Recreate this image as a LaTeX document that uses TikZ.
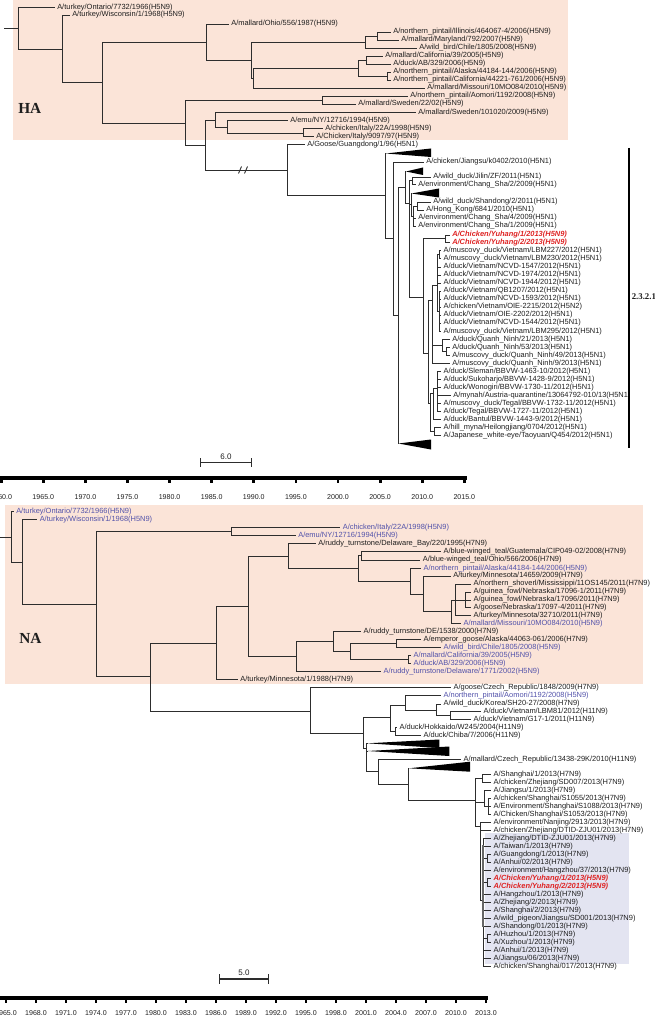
\documentclass[tikz,border=0pt]{standalone}
\usepackage{fontspec}
\setmainfont{Liberation Sans}
\newfontfamily\lab{Liberation Sans}
\newfontfamily\tms{Liberation Serif}
\definecolor{peach}{RGB}{251,228,216}
\definecolor{lav}{RGB}{227,228,241}
\definecolor{linec}{RGB}{45,45,45}
\definecolor{bluec}{RGB}{82,82,170}
\definecolor{redc}{RGB}{222,35,35}
\definecolor{txt}{RGB}{30,30,30}
\tikzset{
  br/.style={draw=linec, line width=0.65pt},
  leaf/.style={anchor=west, inner xsep=1.875pt, inner ysep=0pt, text=txt, font={\lab\fontsize{5.6}{6}\selectfont}},
  blu/.style={text=bluec},
  redl/.style={text=redc, font={\lab\bfseries\itshape\fontsize{5.6}{6}\selectfont}},
  axl/.style={inner sep=0pt, text=txt, font={\lab\fontsize{5.3}{6}\selectfont}},
  big/.style={anchor=west, inner sep=0pt, text=txt, font={\tms\bfseries\fontsize{11.5}{12}\selectfont}},
}
\newcommand{\myleaf}[5][]{\node[leaf,#1] (#2) at ({#3-2.5},#4) {#5};}
\newcommand{\kids}[2]{\foreach \c in {#2} {\draw[br] (#1) |- (\c);}}
\newcommand{\mytri}[6]{\coordinate (#1) at (#2,#3); \fill[black] (#1) -- (#4,#5) -- (#4,#6) -- cycle;}
\begin{document}
\begin{tikzpicture}[x=0.75pt,y=-0.75pt]
\useasboundingbox (0,0) rectangle (655,1019);
% backgrounds
\fill[peach] (13,0) rectangle (568,140);
\fill[peach] (5,505) rectangle (643,684);
\fill[lav] (485,833) rectangle (629,964);
\node[big] (ha) at (18,108) {HA};
\node[big] (na) at (19,638) {NA};

%% ================= TOP TREE (HA) =================
\coordinate (hroot) at (4,28);
\coordinate (h1) at (18,28);
\coordinate (h2) at (62,49);
\coordinate (h3) at (102,82);
\coordinate (h4) at (206,42);
\coordinate (h5) at (251,60);
\coordinate (h6) at (365,42);
\coordinate (h6a) at (377,36);
\coordinate (h7) at (253,78);
\coordinate (h8) at (358,68);
\coordinate (h8a) at (366,60);
\coordinate (h8b) at (387,76);
\coordinate (h9) at (185,123);
\coordinate (h10) at (322,100);
\coordinate (h11) at (205,145);
\coordinate (h12) at (215,120);
\coordinate (h12a) at (227,127);
\coordinate (h12b) at (303,133);
\coordinate (h13) at (287,170);
\coordinate (h14) at (385,195);
\coordinate (h15) at (393,238);
\coordinate (h16) at (398,315);
\coordinate (h17) at (405,187);
\coordinate (h18) at (409,203);
\coordinate (h19) at (412,180.5);
\coordinate (h20) at (411,204.5);
\coordinate (h22) at (413,216);
\coordinate (h23) at (417,206);
\coordinate (h21) at (423,297);
\coordinate (h24) at (445,238.8);
\coordinate (h25) at (428,353);
\coordinate (h26) at (432,300);
\coordinate (h27) at (437,285);
\coordinate (h27a) at (439,254.7);
\coordinate (h27b) at (439,311);
\coordinate (h28) at (442,345);
\coordinate (h28a) at (446,351.5);
\coordinate (h30) at (430,403);
\coordinate (h31) at (433,393);
\coordinate (h33) at (437,388);
\coordinate (h32) at (434,431.5);

\myleaf{ont}{57}{7.5}{A/turkey/Ontario/7732/1966(H5N9)}
\myleaf{wis}{72}{15}{A/turkey/Wisconsin/1/1968(H5N9)}
\myleaf{ohio}{231}{24}{A/mallard/Ohio/556/1987(H5N9)}
\myleaf{ill}{393}{32}{A/northern\_pintail/Illinois/464067-4/2006(H5N9)}
\myleaf{mary}{401}{40}{A/mallard/Maryland/792/2007(H5N9)}
\myleaf{wbc}{419}{48}{A/wild\_bird/Chile/1805/2008(H5N9)}
\myleaf{mcal}{385}{56}{A/mallard/California/39/2005(H5N9)}
\myleaf{dab}{393}{64}{A/duck/AB/329/2006(H5N9)}
\myleaf{npa}{393}{72}{A/northern\_pintail/Alaska/44184-144/2006(H5N9)}
\myleaf{npc}{393}{80}{A/northern\_pintail/California/44221-761/2006(H5N9)}
\myleaf{mmo}{427}{88}{A/mallard/Missouri/10MO084/2010(H5N9)}
\myleaf{aom}{410}{96}{A/northern\_pintail/Aomori/1192/2008(H5N9)}
\myleaf{sw22}{358}{104}{A/mallard/Sweden/22/02(H5N9)}
\myleaf{sw10}{418}{112.5}{A/mallard/Sweden/101020/2009(H5N9)}
\myleaf{emu}{290}{120.5}{A/emu/NY/12716/1994(H5N9)}
\myleaf{it22}{325}{128.5}{A/chicken/Italy/22A/1998(H5N9)}
\myleaf{it90}{316}{136.5}{A/Chicken/Italy/9097/97(H5N9)}
\myleaf{goose}{307}{144.5}{A/Goose/Guangdong/1/96(H5N1)}
\myleaf{jiang}{426}{162}{A/chicken/Jiangsu/k0402/2010(H5N1)}
\myleaf{jilin}{433}{177}{A/wild\_duck/Jilin/ZF/2011(H5N1)}
\myleaf{env2}{418}{184.5}{A/environment/Chang\_Sha/2/2009(H5N1)}
\myleaf{shd}{433}{202}{A/wild\_duck/Shandong/2/2011(H5N1)}
\myleaf{hk}{426}{210}{A/Hong\_Kong/6841/2010(H5N1)}
\myleaf{env4}{418}{218}{A/environment/Chang\_Sha/4/2009(H5N1)}
\myleaf{env1}{418}{226}{A/environment/Chang\_Sha/1/2009(H5N1)}
\myleaf[redl]{yh1}{452}{235}{A/Chicken/Yuhang/1/2013(H5N9)}
\myleaf[redl]{yh2}{452}{242.7}{A/Chicken/Yuhang/2/2013(H5N9)}
\myleaf{lbm227}{443.3}{250.7}{A/muscovy\_duck/Vietnam/LBM227/2012(H5N1)}
\myleaf{lbm230}{443.3}{258.7}{A/muscovy\_duck/Vietnam/LBM230/2012(H5N1)}
\myleaf{n1547}{443.3}{267}{A/duck/Vietnam/NCVD-1547/2012(H5N1)}
\myleaf{n1974}{443.3}{275}{A/duck/Vietnam/NCVD-1974/2012(H5N1)}
\myleaf{n1944}{443.3}{283}{A/duck/Vietnam/NCVD-1944/2012(H5N1)}
\myleaf{qb}{443.3}{291}{A/duck/Vietnam/QB1207/2012(H5N1)}
\myleaf{n1593}{443.3}{299}{A/duck/Vietnam/NCVD-1593/2012(H5N1)}
\myleaf{oie15}{443.3}{307}{A/chicken/Vietnam/OIE-2215/2012(H5N2)}
\myleaf{oie02}{443.3}{315}{A/duck/Vietnam/OIE-2202/2012(H5N1)}
\myleaf{n1544}{443.3}{323}{A/duck/Vietnam/NCVD-1544/2012(H5N1)}
\myleaf{lbm295}{443.3}{331.5}{A/muscovy\_duck/Vietnam/LBM295/2012(H5N1)}
\myleaf{qn21}{452}{339.5}{A/duck/Quanh\_Ninh/21/2013(H5N1)}
\myleaf{qn53}{452}{347.5}{A/duck/Quanh\_Ninh/53/2013(H5N1)}
\myleaf{qn49}{452}{355.5}{A/muscovy\_duck/Quanh\_Ninh/49/2013(H5N1)}
\myleaf{qn9}{452}{363.5}{A/muscovy\_duck/Quanh\_Ninh/9/2013(H5N1)}
\myleaf{slem}{443.3}{371.5}{A/duck/Sleman/BBVW-1463-10/2012(H5N1)}
\myleaf{suko}{443.3}{379.5}{A/duck/Sukoharjo/BBVW-1428-9/2012(H5N1)}
\myleaf{wono}{443.3}{387.5}{A/duck/Wonogiri/BBVW-1730-11/2012(H5N1)}
\myleaf{mynah}{453}{395.5}{A/mynah/Austria-quarantine/13064792-010/13(H5N1)}
\myleaf{mteg}{443.3}{403.5}{A/muscovy\_duck/Tegal/BBVW-1732-11/2012(H5N1)}
\myleaf{dteg}{443.3}{411.5}{A/duck/Tegal/BBVW-1727-11/2012(H5N1)}
\myleaf{bant}{443.3}{419.5}{A/duck/Bantul/BBVW-1443-9/2012(H5N1)}
\myleaf{hill}{443.3}{427.5}{A/hill\_myna/Heilongjiang/0704/2012(H5N1)}
\myleaf{jwe}{443.3}{435.5}{A/Japanese\_white-eye/Taoyuan/Q454/2012(H5N1)}

\mytri{tri0}{386}{153.5}{431}{148.5}{157}
\mytri{tri1}{406}{171.5}{423}{167.5}{175}
\mytri{tri2}{411.5}{193.5}{439}{188.5}{197.5}
\mytri{tri3}{398.5}{443.5}{431}{439.5}{449.5}

\draw[br] (hroot) -- (h1);
\kids{h1}{ont,h2}
\kids{h2}{wis,h3}
\kids{h3}{h4,h9}
\kids{h4}{ohio,h5}
\kids{h5}{h6,h7}
\kids{h6}{h6a,wbc}
\kids{h6a}{ill,mary}
\kids{h7}{h8,mmo}
\kids{h8}{h8a,h8b}
\kids{h8a}{mcal,dab}
\kids{h8b}{npa,npc}
\kids{h9}{h10,h11}
\kids{h10}{aom,sw22}
\kids{h11}{h12,h13}
\kids{h12}{sw10,h12a}
\kids{h12a}{emu,h12b}
\kids{h12b}{it22,it90}
\kids{h13}{goose,h14}
\kids{h14}{tri0,h15}
\kids{h15}{jiang,h16}
\kids{h16}{h17,tri3}
\kids{h17}{tri1,h18}
\kids{h18}{h19,h20,h21}
\kids{h19}{jilin,env2}
\kids{h20}{tri2,h22}
\kids{h22}{h23,env4,env1}
\kids{h23}{shd,hk}
\kids{h21}{h24,h25}
\kids{h24}{yh1,yh2}
\kids{h25}{h26,h30}
\kids{h26}{h27,h28,qn9}
\kids{h27}{h27a,n1547,n1974,n1944,h27b}
\kids{h27a}{lbm227,lbm230}
\kids{h27b}{qb,n1593,oie15,oie02,n1544,lbm295}
\kids{h28}{qn21,h28a}
\kids{h28a}{qn53,qn49}
\kids{h30}{h31,h32}
\kids{h31}{h33,bant}
\kids{h33}{slem,suko,wono,mynah,mteg,dteg}
\kids{h32}{hill,jwe}
% break marks
\draw[linec, line width=0.65pt] (238.5,173.5) -- (241.5,166.5);
\draw[linec, line width=0.65pt] (244.5,173.5) -- (247.5,166.5);
% clade bar
\coordinate (cb1) at (629,148);
\coordinate (cb2) at (629,448);
\draw[black, line width=1.1pt] (cb1) -- (cb2);
\node[anchor=west, inner sep=0pt, text=txt, font={\tms\bfseries\fontsize{6.6}{7}\selectfont}] (c2321) at (631.5,297) {2.3.2.1};
% scale bar
\coordinate (s1a) at (200,462.5);
\coordinate (s1b) at (252,462.5);
\draw[linec, line width=0.8pt, |-|] (s1a) -- (s1b);
\node[axl, font={\lab\fontsize{6}{7}\selectfont}] (s1l) at (226,457) {6.0};
% axis
\coordinate (ax1a) at (0,478);
\coordinate (ax1b) at (467,478);
\draw[black, line width=2.4pt] (ax1a) -- (ax1b);
\foreach \i in {0,...,11} {
  \pgfmathsetmacro\xx{1.2+42.1*\i}
  \pgfmathtruncatemacro\yr{1960+5*\i}
  \fill[black] (\xx-1.4,478) rectangle (\xx+1.4,483);
  \node[axl] (ta\i) at (\xx,497) {\yr.0};
}

%% ================= BOTTOM TREE (NA) =================
\coordinate (broot) at (0,537);
\coordinate (r1) at (11,537);
\coordinate (r2) at (22,562);
\coordinate (r3) at (96.7,604);
\coordinate (rI) at (231,531.5);
\coordinate (r4) at (150,676.7);
\coordinate (r5) at (216.7,643);
\coordinate (r6) at (248,606.7);
\coordinate (r7) at (288,556);
\coordinate (r8) at (296,656.7);
\coordinate (b1) at (358.3,568);
\coordinate (bg) at (361.7,555.8);
\coordinate (b2) at (410,581);
\coordinate (b3) at (423.3,594);
\coordinate (b4) at (451.7,611.7);
\coordinate (b5) at (455,600);
\coordinate (b6) at (465,600);
\coordinate (c1) at (333.3,641.7);
\coordinate (c2) at (350,651.7);
\coordinate (c3) at (396.7,643.7);
\coordinate (c4) at (408.3,659.7);
\coordinate (d1) at (310,711);
\coordinate (d2) at (363.3,733);
\coordinate (d3) at (390.7,717);
\coordinate (d4) at (366.7,748.5);
\coordinate (d5) at (405,705);
\coordinate (d6) at (395,731.3);
\coordinate (d7) at (436.7,710);
\coordinate (d8) at (450,715.7);
\coordinate (d9) at (378.3,771.8);
\coordinate (d10) at (408.3,784);
\coordinate (d11) at (475,800);
\coordinate (e1) at (482.7,778.3);
\coordinate (e2) at (484,802.3);
\coordinate (e3) at (488,806.3);
\coordinate (e4) at (480,826);
\coordinate (e5) at (483.5,900);
\coordinate (eg) at (487.5,858.3);
\coordinate (ey) at (487.5,882.3);
\coordinate (ehx) at (487.5,938.3);

\myleaf[blu]{bont}{16}{511.5}{A/turkey/Ontario/7732/1966(H5N9)}
\myleaf[blu]{bwis}{39.5}{519.5}{A/turkey/Wisconsin/1/1968(H5N9)}
\myleaf[blu]{bit}{342.5}{527.5}{A/chicken/Italy/22A/1998(H5N9)}
\myleaf[blu]{bemu}{298}{535.5}{A/emu/NY/12716/1994(H5N9)}
\myleaf{rdb}{318}{543.5}{A/ruddy\_turnstone/Delaware\_Bay/220/1995(H7N9)}
\myleaf{guat}{443.3}{551.7}{A/blue-winged\_teal/Guatemala/CIP049-02/2008(H7N9)}
\myleaf{bwto}{422.7}{560}{A/blue-winged\_teal/Ohio/566/2006(H7N9)}
\myleaf[blu]{bnpa}{423.3}{568.3}{A/northern\_pintail/Alaska/44184-144/2006(H5N9)}
\myleaf{tmin}{453}{576}{A/turkey/Minnesota/14659/2009(H7N9)}
\myleaf{shov}{473.3}{584}{A/northern\_shoverl/Mississippi/11OS145/2011(H7N9)}
\myleaf{gf1}{473.3}{592}{A/guinea\_fowl/Nebraska/17096-1/2011(H7N9)}
\myleaf{gf2}{473.3}{600}{A/guinea\_fowl/Nebraska/17096/2011(H7N9)}
\myleaf{gneb}{473.3}{607.7}{A/goose/Nebraska/17097-4/2011(H7N9)}
\myleaf{tm32}{473.3}{615.7}{A/turkey/Minnesota/32710/2011(H7N9)}
\myleaf[blu]{bmmo}{463.3}{623.5}{A/mallard/Missouri/10MO084/2010(H5N9)}
\myleaf{rde}{363.3}{631.7}{A/ruddy\_turnstone/DE/1538/2000(H7N9)}
\myleaf{emp}{423.3}{639.7}{A/emperor\_goose/Alaska/44063-061/2006(H7N9)}
\myleaf[blu]{bwbc}{443.3}{647.7}{A/wild\_bird/Chile/1805/2008(H5N9)}
\myleaf[blu]{bmcal}{413.3}{655.7}{A/mallard/California/39/2005(H5N9)}
\myleaf[blu]{bdab}{413.3}{663.7}{A/duck/AB/329/2006(H5N9)}
\myleaf[blu]{rdd}{383.3}{671.7}{A/ruddy\_turnstone/Delaware/1771/2002(H5N9)}
\myleaf{tm1}{240}{679.5}{A/turkey/Minnesota/1/1988(H7N9)}
\myleaf{gcz}{453.3}{687.7}{A/goose/Czech\_Republic/1848/2009(H7N9)}
\myleaf[blu]{baom}{443.3}{695.7}{A/northern\_pintail/Aomori/1192/2008(H5N9)}
\myleaf{wdk}{443.3}{704}{A/wild\_duck/Korea/SH20-27/2008(H7N9)}
\myleaf{lbm81}{483.3}{711.7}{A/duck/Vietnam/LBM81/2012(H11N9)}
\myleaf{g17}{473.3}{719.7}{A/duck/Vietnam/G17-1/2011(H11N9)}
\myleaf{hok}{399.3}{727.5}{A/duck/Hokkaido/W245/2004(H11N9)}
\myleaf{chiba}{423.3}{735.3}{A/duck/Chiba/7/2006(H11N9)}
\myleaf{mcz}{463.3}{759.7}{A/mallard/Czech\_Republic/13438-29K/2010(H11N9)}
\myleaf{sh1}{493.3}{774.3}{A/Shanghai/1/2013(H7N9)}
\myleaf{zsd}{493.3}{782.3}{A/chicken/Zhejiang/SD007/2013(H7N9)}
\myleaf{js1}{493.3}{790.3}{A/Jiangsu/1/2013(H7N9)}
\myleaf{s1055}{493.3}{798.3}{A/chicken/Shanghai/S1055/2013(H7N9)}
\myleaf{s1088}{493.3}{806.3}{A/Environment/Shanghai/S1088/2013(H7N9)}
\myleaf{s1053}{493.3}{814.3}{A/Chicken/Shanghai/S1053/2013(H7N9)}
\myleaf{nj}{493.3}{822.3}{A/environment/Nanjing/2913/2013(H7N9)}
\myleaf{czd}{493.3}{830.3}{A/chicken/Zhejiang/DTID-ZJU01/2013(H7N9)}
\myleaf{zd}{493.3}{838.3}{A/Zhejiang/DTID-ZJU01/2013(H7N9)}
\myleaf{tw}{493.3}{846.3}{A/Taiwan/1/2013(H7N9)}
\myleaf{gd}{493.3}{854.3}{A/Guangdong/1/2013(H7N9)}
\myleaf{ah2}{493.3}{862.3}{A/Anhui/02/2013(H7N9)}
\myleaf{hz37}{493.3}{870.3}{A/environment/Hangzhou/37/2013(H7N9)}
\myleaf[redl]{byh1}{493.3}{878.3}{A/Chicken/Yuhang/1/2013(H5N9)}
\myleaf[redl]{byh2}{493.3}{886.3}{A/Chicken/Yuhang/2/2013(H5N9)}
\myleaf{hz1}{493.3}{894.3}{A/Hangzhou/1/2013(H7N9)}
\myleaf{zj2}{493.3}{902.3}{A/Zhejiang/2/2013(H7N9)}
\myleaf{sh2}{493.3}{910.3}{A/Shanghai/2/2013(H7N9)}
\myleaf{wp}{493.3}{918.3}{A/wild\_pigeon/Jiangsu/SD001/2013(H7N9)}
\myleaf{sd}{493.3}{926.3}{A/Shandong/01/2013(H7N9)}
\myleaf{huz}{493.3}{934.3}{A/Huzhou/1/2013(H7N9)}
\myleaf{xuz}{493.3}{942.3}{A/Xuzhou/1/2013(H7N9)}
\myleaf{ah1}{493.3}{950.3}{A/Anhui/1/2013(H7N9)}
\myleaf{js6}{493.3}{958.3}{A/Jiangsu/06/2013(H7N9)}
\myleaf{cs17}{493.3}{966.3}{A/chicken/Shanghai/017/2013(H7N9)}

\mytri{triA}{367.5}{743.3}{439.3}{739.5}{748}
\mytri{triB}{367.5}{751}{449.3}{746.5}{756}
\mytri{triC}{409}{768.3}{470}{761.7}{771.7}

\draw[br] (broot) -- (r1);
\kids{r1}{bont,r2}
\kids{r2}{bwis,r3}
\kids{r3}{rI,r4}
\kids{rI}{bit,bemu}
\kids{r4}{r5,d1}
\kids{r5}{r6,tm1}
\kids{r6}{r7,r8}
\kids{r7}{rdb,b1}
\kids{b1}{bg,b2}
\kids{bg}{guat,bwto}
\kids{b2}{bnpa,b3}
\kids{b3}{tmin,b4}
\kids{b4}{b5,bmmo}
\kids{b5}{shov,b6,tm32}
\kids{b6}{gf1,gf2,gneb}
\kids{r8}{c1,rdd}
\kids{c1}{rde,c2}
\kids{c2}{c3,c4}
\kids{c3}{emp,bwbc}
\kids{c4}{bmcal,bdab}
\kids{d1}{gcz,d2}
\kids{d2}{d3,d4}
\kids{d3}{d5,d6}
\kids{d5}{baom,d7}
\kids{d7}{wdk,d8}
\kids{d8}{lbm81,g17}
\kids{d6}{hok,chiba}
\kids{d4}{triA,triB,d9}
\kids{d9}{mcz,d10}
\kids{d10}{triC,d11}
\kids{d11}{e1,e2,e4}
\kids{e1}{sh1,zsd}
\kids{e2}{js1,e3}
\kids{e3}{s1055,s1088,s1053}
\kids{e4}{nj,czd,e5}
\kids{e5}{zd,tw,eg,hz37,ey,hz1,zj2,sh2,wp,sd,ehx,ah1,js6,cs17}
\kids{eg}{gd,ah2}
\kids{ey}{byh1,byh2}
\kids{ehx}{huz,xuz}
\coordinate (tb1) at (483.3,845);
\coordinate (tb2) at (483.3,927);
\draw[gray!80!black, line width=1.5pt] (tb1) -- (tb2);
% scale bar
\coordinate (s2a) at (219,979);
\coordinate (s2b) at (269,979);
\draw[linec, line width=0.8pt, |-|] (s2a) -- (s2b);
\node[axl, font={\lab\fontsize{6}{7}\selectfont}] (s2l) at (244,973) {5.0};
% axis
\coordinate (ax2a) at (0,998);
\coordinate (ax2b) at (488,998);
\draw[black, line width=2.4pt] (ax2a) -- (ax2b);
\foreach \i in {0,...,16} {
  \pgfmathsetmacro\xx{6+30*\i}
  \pgfmathtruncatemacro\yr{1965+3*\i}
  \fill[black] (\xx-1.4,998) rectangle (\xx+1.4,1003);
  \node[axl] (tb\i) at (\xx,1013) {\yr.0};
}
\end{tikzpicture}
\end{document}
